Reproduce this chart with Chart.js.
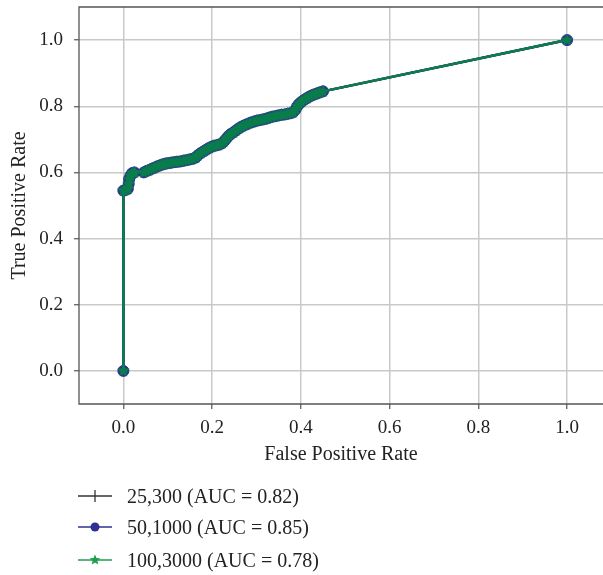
<!DOCTYPE html>
<html>
<head>
<meta charset="utf-8">
<script src="https://cdn.jsdelivr.net/npm/chart.js@4/dist/chart.umd.min.js"></script>
<style>
  html, body { margin: 0; padding: 0; background: #fff; }
  #wrap { position: relative; width: 603px; height: 575px; }
  #c { position: absolute; left: 0; top: 0; }
  .leg { position: absolute; left: 78px; height: 24px; display: flex; align-items: center;
         font-family: "Liberation Serif", "DejaVu Serif", serif; font-size: 20px; color: #222; white-space: nowrap; }
  .leg svg { margin-right: 15px; }
</style>
</head>
<body>
<div id="wrap">
  <canvas id="c" width="603" height="575"></canvas>
  <div id="legend"></div>
</div>
<script>
// ---- data ----
const fpr = [0, 0, 0.005, 0.010, 0.012, 0.013, 0.016, 0.020, 0.025,
  0.046, 0.052, 0.058, 0.064, 0.070, 0.076, 0.082, 0.088, 0.094, 0.100,
  0.107, 0.114, 0.121, 0.128, 0.135, 0.142, 0.149, 0.156, 0.163, 0.168,
  0.174, 0.180, 0.186, 0.192, 0.198, 0.204, 0.210, 0.216, 0.222, 0.227,
  0.232, 0.237, 0.242, 0.248, 0.254, 0.260, 0.266, 0.272, 0.279, 0.286,
  0.293, 0.300, 0.307, 0.314, 0.321, 0.328, 0.335, 0.342, 0.349, 0.356,
  0.363, 0.370, 0.377, 0.383, 0.388, 0.392, 0.396, 0.401, 0.407, 0.413,
  0.419, 0.425, 0.431, 0.437, 0.443, 0.450, 1.0];
const tpr = [0, 0.545, 0.547, 0.550, 0.565, 0.580, 0.590, 0.598, 0.600,
  0.600, 0.604, 0.607, 0.611, 0.614, 0.618, 0.621, 0.624, 0.626, 0.628,
  0.629, 0.631, 0.632, 0.633, 0.635, 0.637, 0.639, 0.641, 0.645, 0.652,
  0.658, 0.663, 0.668, 0.673, 0.677, 0.680, 0.682, 0.684, 0.688, 0.694,
  0.702, 0.710, 0.716, 0.721, 0.727, 0.733, 0.738, 0.742, 0.746, 0.750,
  0.753, 0.756, 0.758, 0.760, 0.762, 0.765, 0.768, 0.770, 0.772, 0.774,
  0.775, 0.777, 0.779, 0.782, 0.790, 0.800, 0.807, 0.813, 0.819, 0.824,
  0.829, 0.833, 0.836, 0.839, 0.842, 0.845, 1.0];
// the three curves coincide in the picture
const seriesNames = ["25,300 (AUC = 0.82)", "50,1000 (AUC = 0.85)", "100,3000 (AUC = 0.78)"];
const seriesFpr = [fpr, fpr, fpr];
const seriesTpr = [tpr, tpr, tpr];
const xTicks = [0.0, 0.2, 0.4, 0.6, 0.8, 1.0];
const yTicks = [0.0, 0.2, 0.4, 0.6, 0.8, 1.0];
const xTitle = "False Positive Rate";
const yTitle = "True Positive Rate";

// ---- styling ----
const FONT = '"Liberation Serif", "DejaVu Serif", serif';
const BLACK = '#333333', BLUE = '#2e3192', GREEN = '#0b7d4e', GREEN_LEG = '#1f9e4f';

function starCanvas(r, color) {
  const s = Math.ceil(r * 2 + 2);
  const cv = document.createElement('canvas');
  cv.width = s; cv.height = s;
  const ctx = cv.getContext('2d');
  ctx.translate(s / 2, s / 2);
  ctx.beginPath();
  for (let i = 0; i < 10; i++) {
    const rr = i % 2 === 0 ? r : r * 0.5;
    const a = -Math.PI / 2 + i * Math.PI / 5;
    ctx.lineTo(rr * Math.cos(a), rr * Math.sin(a));
  }
  ctx.closePath();
  ctx.fillStyle = color; ctx.fill();
  ctx.lineWidth = 1.2; ctx.strokeStyle = color; ctx.stroke();
  return cv;
}

function pts(xs, ys) { return xs.map((x, i) => ({ x: x, y: ys[i] })); }

const styles = [
  { color: BLACK, pointStyle: 'cross', radius: 5, bw: 1.5, lw: 2.5 },
  { color: BLUE, pointStyle: 'circle', radius: 5.5, bw: 1, lw: 2.5 },
  { color: GREEN, pointStyle: starCanvas(5.2, GREEN), radius: 5, bw: 0, lw: 2.5 }
];

const datasets = seriesNames.map((name, k) => ({
  label: name,
  data: pts(seriesFpr[k], seriesTpr[k]),
  showLine: true,
  borderColor: styles[k].color,
  backgroundColor: styles[k].color,
  borderWidth: styles[k].lw,
  pointStyle: styles[k].pointStyle,
  pointRadius: styles[k].radius,
  pointBorderWidth: styles[k].bw,
  pointBorderColor: styles[k].color,
  pointBackgroundColor: styles[k].color,
  tension: 0,
  order: 3 - k
}));

const frame = {
  id: 'frame',
  afterDraw(chart) {
    const { ctx, chartArea: a } = chart;
    ctx.save();
    ctx.strokeStyle = '#555';
    ctx.lineWidth = 1.3;
    ctx.beginPath();
    ctx.moveTo(a.right + 2, a.top);
    ctx.lineTo(a.left, a.top);
    ctx.lineTo(a.left, a.bottom);
    ctx.lineTo(a.right + 2, a.bottom);
    ctx.stroke();
    ctx.restore();
  }
};

new Chart(document.getElementById('c'), {
  type: 'scatter',
  data: { datasets },
  plugins: [frame],
  options: {
    responsive: false,
    animation: false,
    layout: { autoPadding: false, padding: { left: 0, right: 0, top: 7, bottom: 104 } },
    plugins: { legend: { display: false }, tooltip: { enabled: false } },
    scales: {
      x: {
        type: 'linear', min: -0.1, max: 1.081,
        afterBuildTicks: s => { s.ticks = xTicks.map(v => ({ value: v })); },
        afterFit: s => { s.height = 67; s.paddingLeft = 0; s.paddingRight = 0; },
        ticks: { callback: v => v.toFixed(1), color: '#222', padding: 8, font: { family: FONT, size: 19 } },
        grid: { color: '#c9c9c9', lineWidth: 1.5, tickLength: 5, tickColor: '#555', tickWidth: 1.2 },
        border: { display: false },
        title: { display: true, text: xTitle, color: '#222', font: { family: FONT, size: 20 }, padding: { top: 4, bottom: 4 } }
      },
      y: {
        type: 'linear', min: -0.1, max: 1.1,
        afterBuildTicks: s => { s.ticks = yTicks.map(v => ({ value: v })); },
        afterFit: s => { s.width = 79; s.paddingTop = 0; s.paddingBottom = 0; },
        ticks: { callback: v => v.toFixed(1), color: '#222', padding: 11, font: { family: FONT, size: 19 } },
        grid: { color: '#c9c9c9', lineWidth: 1.5, tickLength: 5, tickColor: '#555', tickWidth: 1.2 },
        border: { display: false },
        title: { display: true, text: yTitle, color: '#222', font: { family: FONT, size: 20 }, padding: { top: 8, bottom: 4 } }
      }
    }
  }
});

// ---- legend (HTML, below the plot) ----
const legColors = [BLACK, BLUE, GREEN_LEG];
const legMarkers = [
  c => `<line x1="17" y1="6" x2="17" y2="18" stroke="${c}" stroke-width="1.3"/>`,
  c => `<circle cx="17" cy="12" r="4.5" fill="${c}"/>`,
  c => { let p = []; for (let i = 0; i < 10; i++) { const rr = i % 2 === 0 ? 5.5 : 2.5; const a = -Math.PI / 2 + i * Math.PI / 5; p.push((17 + rr * Math.cos(a)).toFixed(2) + ',' + (12 + rr * Math.sin(a)).toFixed(2)); } return `<polygon points="${p.join(' ')}" fill="${c}"/>`; }
];
const legTops = [484, 515, 548];
const legend = document.getElementById('legend');
seriesNames.forEach((name, k) => {
  const d = document.createElement('div');
  d.className = 'leg';
  d.style.top = legTops[k] + 'px';
  d.innerHTML = `<svg width="34" height="24"><line x1="0" y1="12" x2="34" y2="12" stroke="${legColors[k]}" stroke-width="1.3"/>${legMarkers[k](legColors[k])}</svg><span>${name}</span>`;
  legend.appendChild(d);
});
</script>
</body>
</html>
